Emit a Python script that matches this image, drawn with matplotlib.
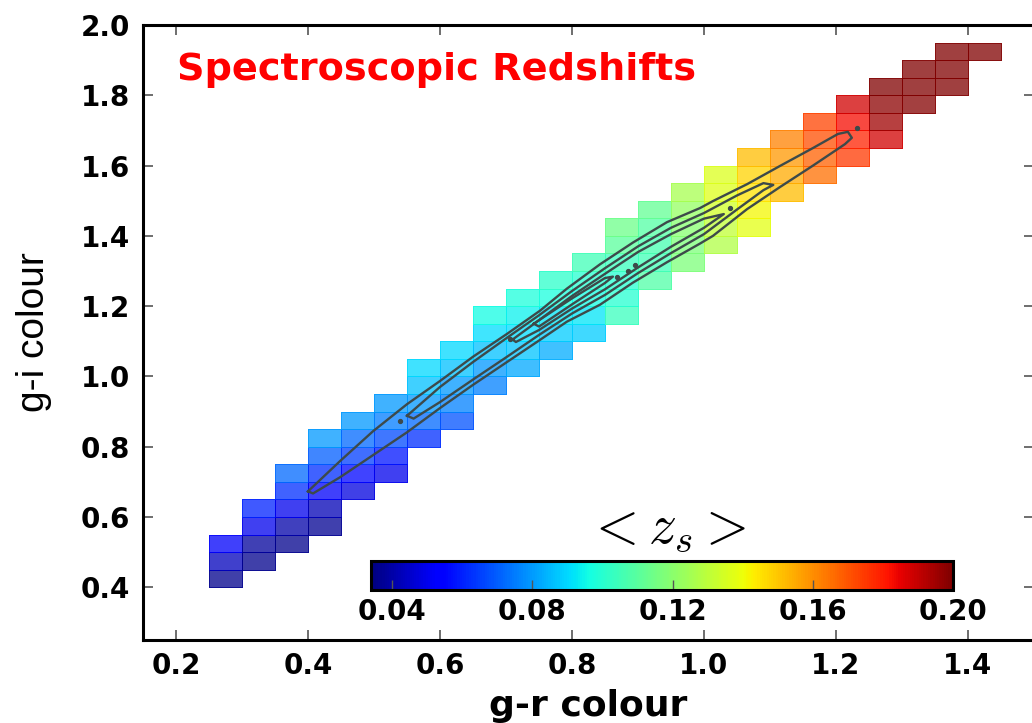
import numpy as np
import matplotlib
matplotlib.use("Agg")
import matplotlib.pyplot as plt
from matplotlib.colors import Normalize
from matplotlib.cm import ScalarMappable

# ---------------- data ----------------
bin_size = 0.05
col_left = [0.25, 0.30, 0.35, 0.40, 0.45, 0.50, 0.55, 0.60, 0.65, 0.70, 0.75, 0.80,
            0.85, 0.90, 0.95, 1.00, 1.05, 1.10, 1.15, 1.20, 1.25, 1.30, 1.35, 1.40]
col_bottom = [0.40, 0.45, 0.50, 0.55, 0.65, 0.70, 0.80, 0.85, 0.95, 1.00, 1.05, 1.10,
              1.15, 1.25, 1.30, 1.35, 1.40, 1.50, 1.55, 1.60, 1.65, 1.75, 1.80, 1.90]
# mean spectroscopic redshift per cell, bottom row first
col_values = [
    [0.036, 0.043, 0.052],
    [0.036, 0.038, 0.050, 0.060],
    [0.036, 0.040, 0.050, 0.062, 0.072],
    [0.037, 0.042, 0.052, 0.062, 0.070, 0.080],
    [0.048, 0.056, 0.065, 0.072, 0.080],
    [0.050, 0.058, 0.067, 0.075, 0.080],
    [0.062, 0.072, 0.080, 0.086, 0.090],
    [0.068, 0.076, 0.080, 0.086, 0.090],
    [0.076, 0.080, 0.086, 0.091, 0.096],
    [0.082, 0.087, 0.091, 0.094, 0.098],
    [0.083, 0.088, 0.092, 0.097, 0.101],
    [0.088, 0.092, 0.096, 0.100, 0.105],
    [0.104, 0.100, 0.100, 0.104, 0.110, 0.114],
    [0.108, 0.105, 0.106, 0.109, 0.112],
    [0.117, 0.117, 0.119, 0.122, 0.126],
    [0.128, 0.131, 0.134, 0.137, 0.136],
    [0.138, 0.141, 0.145, 0.148, 0.152],
    [0.152, 0.155, 0.158, 0.162],
    [0.165, 0.168, 0.171, 0.173],
    [0.175, 0.179, 0.183, 0.188],
    [0.188, 0.195, 0.198, 0.200],
    [0.199, 0.200, 0.200],
    [0.200, 0.200, 0.200],
    [0.200],
]
z_min, z_max = 0.034, 0.20
cbar_ticks = [0.04, 0.08, 0.12, 0.16, 0.20]

# galaxy-density contours (traced outlines)
c1_x = [0.400, 0.4485, 0.4985, 0.55, 0.60, 0.65, 0.7015, 0.7515, 0.7924, 0.8424, 0.8924,
        0.9439, 0.9939, 1.0136, 1.0652, 1.1152, 1.1652, 1.203, 1.218, 1.224,
        1.2136, 1.1652, 1.1152, 1.0652, 1.0136, 0.9939, 0.9439, 0.8924, 0.8424, 0.7924,
        0.7515, 0.7015, 0.65, 0.60, 0.55, 0.4985, 0.4485, 0.4076, 0.400]
c1_y = [0.673, 0.759, 0.844, 0.921, 0.987, 1.056, 1.121, 1.187, 1.250, 1.319, 1.381,
        1.439, 1.479, 1.499, 1.547, 1.599, 1.650, 1.690, 1.696, 1.679,
        1.661, 1.600, 1.539, 1.476, 1.400, 1.378, 1.325, 1.267, 1.204, 1.156,
        1.104, 1.041, 0.976, 0.910, 0.841, 0.776, 0.713, 0.667, 0.673]
c2_x = [0.55, 0.60, 0.65, 0.70, 0.75, 0.80, 0.85, 0.90, 0.95, 1.00, 1.05, 1.09, 1.105,
        1.09, 1.05, 1.00, 0.95, 0.90, 0.85, 0.80, 0.75, 0.70, 0.65, 0.60, 0.56, 0.55]
c2_y = [0.888, 0.970, 1.041, 1.108, 1.174, 1.243, 1.308, 1.370, 1.423, 1.465, 1.515, 1.550, 1.545,
        1.530, 1.475, 1.405, 1.351, 1.294, 1.232, 1.179, 1.118, 1.054, 0.991, 0.927, 0.880, 0.888]
c3_x = [0.71, 0.75, 0.80, 0.85, 0.90, 0.95, 1.00, 1.03,
        1.00, 0.95, 0.90, 0.85, 0.80, 0.75, 0.715, 0.71]
c3_y = [1.105, 1.160, 1.229, 1.292, 1.354, 1.405, 1.449, 1.462,
        1.423, 1.369, 1.310, 1.248, 1.193, 1.132, 1.098, 1.105]
c4_x = [0.742, 0.75, 0.80, 0.85, 0.862, 0.85, 0.80, 0.75, 0.742]
c4_y = [1.150, 1.160, 1.222, 1.280, 1.284, 1.266, 1.205, 1.142, 1.150]
dots_x = [0.540, 0.868, 0.885, 0.895, 1.039, 1.232, 0.706]
dots_y = [0.872, 1.284, 1.299, 1.316, 1.479, 1.707, 1.107]

xticks = [0.2, 0.4, 0.6, 0.8, 1.0, 1.2, 1.4]
yticks = [0.4, 0.6, 0.8, 1.0, 1.2, 1.4, 1.6, 1.8, 2.0]

# ---------------- figure ----------------
plt.rcParams['font.family'] = ['DejaVu Sans']
plt.rcParams['mathtext.fontset'] = 'cm'

W, H = 1032, 723
fig = plt.figure(figsize=(W / 100, H / 100), dpi=100)
ax = fig.add_axes([143 / W, 83 / H, 891 / W, 615 / H])

# grid of cells
x0 = min(col_left)
y0 = min(col_bottom)
nx = len(col_left)
ny = int(round((max(b + bin_size * len(v) for b, v in zip(col_bottom, col_values)) - y0) / bin_size))
x_edges = x0 + bin_size * np.arange(nx + 1)
y_edges = y0 + bin_size * np.arange(ny + 1)
Z = np.full((ny, nx), np.nan)
for i, (b, vals) in enumerate(zip(col_bottom, col_values)):
    j0 = int(round((b - y0) / bin_size))
    Z[j0:j0 + len(vals), i] = vals
Zm = np.ma.masked_invalid(Z)

norm = Normalize(vmin=z_min, vmax=z_max)
ax.pcolormesh(x_edges, y_edges, Zm, cmap='jet', norm=norm, alpha=0.75,
              edgecolors='face', linewidth=0.45, zorder=1)

ccol = '#3d4a4a'
for cx, cy in [(c1_x, c1_y), (c2_x, c2_y), (c3_x, c3_y), (c4_x, c4_y)]:
    ax.plot(cx, cy, color=ccol, lw=1.7, zorder=3, solid_joinstyle='round')
ax.plot(dots_x, dots_y, 'o', color=ccol, ms=2.8, zorder=3)

ax.set_xlim(0.15, 1.5)
ax.set_ylim(0.25, 2.0)
ax.set_xticks(xticks)
ax.set_yticks(yticks)
ax.set_xticklabels([f'{t:.1f}' for t in xticks])
ax.set_yticklabels([f'{t:.1f}' for t in yticks])
ax.tick_params(which='major', direction='in', length=7, width=1.2, color='#555555',
               top=True, right=True, labelsize=20, pad=9)
for lab in ax.get_xticklabels() + ax.get_yticklabels():
    lab.set_fontweight('bold')
for s in ax.spines.values():
    s.set_linewidth(2.2)
    s.set_color('black')

ax.set_xlabel('g-r colour', fontsize=26, fontweight='bold', labelpad=6)
ax.set_ylabel('g-i colour', fontsize=28, family=['Liberation Sans'], labelpad=21)

ax.text(0.038, 0.911, 'Spectroscopic Redshifts', transform=ax.transAxes,
        color='#ff0000', fontsize=27.5, fontweight='bold', va='baseline', ha='left')

# colorbar
cax = fig.add_axes([371 / W, 133 / H, 582 / W, 29 / H])
sm = ScalarMappable(norm=norm, cmap='jet')
cb = fig.colorbar(sm, cax=cax, orientation='horizontal', ticks=cbar_ticks)
cb.ax.set_xticklabels([f'{t:.2f}' for t in cbar_ticks])
cb.outline.set_linewidth(2.2)
cax.tick_params(direction='in', length=7, width=1, color='#555555', labelsize=20, pad=6)
for lab in cax.get_xticklabels():
    lab.set_fontweight('bold')
fig.text(666 / W, (H - 528) / H, r'$<z_s>$', fontsize=40, ha='center', va='center')

fig.savefig('out.png', dpi=100)
